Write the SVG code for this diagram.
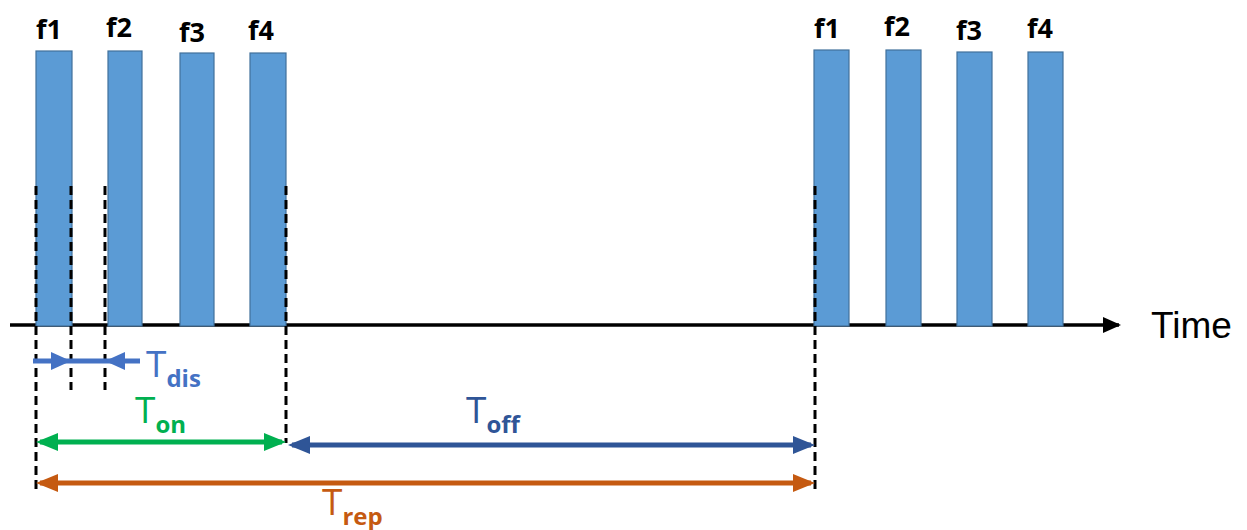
<svg xmlns="http://www.w3.org/2000/svg" width="1247" height="530" viewBox="0 0 1247 530">
<style>
.bar{fill:#5B9BD5;stroke:#41719C;stroke-width:1.2}
.lbl{font-family:"Open Sans","Liberation Sans",Arial,sans-serif;font-weight:bold;font-size:27px;fill:#000}
.dash{stroke:#000;stroke-width:3;stroke-dasharray:9,5;fill:none}
.tt{font-family:"Open Sans","Liberation Sans",sans-serif;font-size:37px}
.sub{font-size:24px;font-weight:bold}
</style>
<defs>
<marker id="mon" viewBox="0 0 22 18" refX="18" refY="9" markerWidth="22" markerHeight="18" markerUnits="userSpaceOnUse" orient="auto-start-reverse"><path d="M0,0 L22,9 L0,18 z" fill="#00B050"/></marker>
<marker id="moff" viewBox="0 0 22 18" refX="18" refY="9" markerWidth="22" markerHeight="18" markerUnits="userSpaceOnUse" orient="auto-start-reverse"><path d="M0,0 L22,9 L0,18 z" fill="#2F5597"/></marker>
<marker id="mrep" viewBox="0 0 22 18" refX="18" refY="9" markerWidth="22" markerHeight="18" markerUnits="userSpaceOnUse" orient="auto-start-reverse"><path d="M0,0 L22,9 L0,18 z" fill="#C55A11"/></marker>
<marker id="max" viewBox="0 0 18 16" refX="16" refY="8" markerWidth="18" markerHeight="16" markerUnits="userSpaceOnUse" orient="auto"><path d="M0,0 L18,8 L0,16 z" fill="#000"/></marker>
</defs>

<g id="axis">
<line x1="10" y1="325" x2="1119" y2="325" stroke="#000" stroke-width="3.5" marker-end="url(#max)"/>
<text x="1151" y="338" font-family="'Liberation Sans',Arial,sans-serif" font-size="37" fill="#000">Time</text>
</g>

<g id="pulse-a-f1"><rect class="bar" x="36" y="51" width="36" height="275"/><text class="lbl" x="36" y="39">f1</text></g>
<g id="pulse-a-f2"><rect class="bar" x="108" y="51" width="34" height="275"/><text class="lbl" x="106" y="37">f2</text></g>
<g id="pulse-a-f3"><rect class="bar" x="180" y="53" width="34" height="273"/><text class="lbl" x="179" y="42">f3</text></g>
<g id="pulse-a-f4"><rect class="bar" x="250" y="53" width="36" height="273"/><text class="lbl" x="248" y="40">f4</text></g>
<g id="pulse-b-f1"><rect class="bar" x="814" y="50" width="35" height="276"/><text class="lbl" x="814" y="38">f1</text></g>
<g id="pulse-b-f2"><rect class="bar" x="886" y="50" width="35" height="276"/><text class="lbl" x="884" y="36">f2</text></g>
<g id="pulse-b-f3"><rect class="bar" x="957" y="52" width="35" height="274"/><text class="lbl" x="956" y="40">f3</text></g>
<g id="pulse-b-f4"><rect class="bar" x="1028" y="52" width="35" height="274"/><text class="lbl" x="1027" y="38">f4</text></g>

<g id="guides">
<line class="dash" x1="36" y1="186" x2="36" y2="492"/>
<line class="dash" x1="71" y1="186" x2="71" y2="390"/>
<line class="dash" x1="105" y1="186" x2="105" y2="390"/>
<line class="dash" x1="286" y1="186" x2="286" y2="443"/>
<line class="dash" x1="815" y1="186" x2="815" y2="492"/>
</g>

<g id="connectors">
<line x1="33" y1="361" x2="140" y2="361" stroke="#4472C4" stroke-width="5"/>
<path d="M51,352 L71,361 L51,370 z" fill="#4472C4"/>
<path d="M125,352 L105,361 L125,370 z" fill="#4472C4"/>
<line x1="40" y1="442" x2="282" y2="442" stroke="#00B050" stroke-width="5" marker-start="url(#mon)" marker-end="url(#mon)"/>
<line x1="292" y1="445" x2="811" y2="445" stroke="#2F5597" stroke-width="5" marker-start="url(#moff)" marker-end="url(#moff)"/>
<line x1="40" y1="483" x2="811" y2="483" stroke="#C55A11" stroke-width="5" marker-start="url(#mrep)" marker-end="url(#mrep)"/>
</g>

<g id="labels">
<text class="tt" x="146" y="377" fill="#4472C4">T<tspan class="sub" dy="10">dis</tspan></text>
<text class="tt" x="135" y="423" fill="#00B050">T<tspan class="sub" dy="10">on</tspan></text>
<text class="tt" x="466" y="423" fill="#2F5597">T<tspan class="sub" dy="10">off</tspan></text>
<text class="tt" x="322" y="515" fill="#C55A11">T<tspan class="sub" dy="10">rep</tspan></text>
</g>
</svg>
